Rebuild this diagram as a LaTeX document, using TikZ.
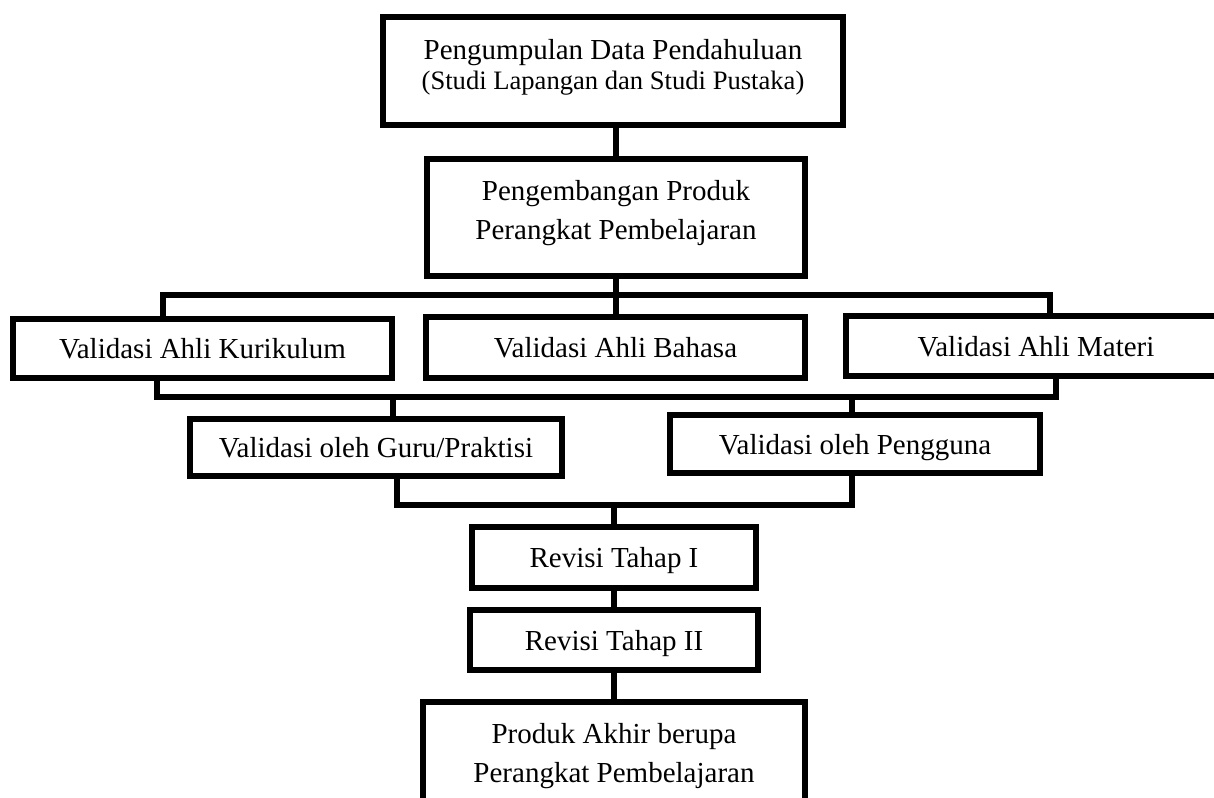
\documentclass[tikz,border=0pt]{standalone}
\usepackage{fontspec}
\setmainfont{Liberation Serif}
\usetikzlibrary{positioning,calc}
\tikzstyle{kotak} = [draw, line width=2.75pt, inner sep=0pt, align=center, text height=10pt, text depth=0pt]
\tikzstyle{garis} = [line width=2.75pt]

\begin{document}
\begin{tikzpicture}[x=0.5pt, y=-0.5pt, font=\fontsize{14.5}{19.5}\selectfont]
\path[use as bounding box, clip] (0,0) rectangle (1214,797);

\node[kotak, minimum width=230pt, minimum height=54pt, text height=25pt, text depth=6pt] (kumpul) at (613,71) {Pengumpulan Data Pendahuluan\\[-4.5pt]{\fontsize{13.3}{15}\selectfont (Studi Lapangan dan Studi Pustaka)}};
\node[kotak, minimum width=189pt, minimum height=58.5pt, text height=29.5pt, text depth=8pt] (kembang) at (616,217.5) {Pengembangan Produk\\Perangkat Pembelajaran};

\node[kotak, minimum width=189.5pt, minimum height=29.5pt] (kurikulum) at (202.5,348.5) {Validasi Ahli Kurikulum};
\node[kotak, minimum width=189.5pt, minimum height=30.5pt] (bahasa) at (615.5,347.5) {Validasi Ahli Bahasa};
\node[kotak, minimum width=190pt, minimum height=30pt] (materi) at (1036,346) {Validasi Ahli Materi};

\node[kotak, minimum width=186pt, minimum height=28.5pt] (guru) at (376,447.5) {Validasi oleh Guru/Praktisi};
\node[kotak, minimum width=185pt, minimum height=29pt] (pengguna) at (855,444) {Validasi oleh Pengguna};

\node[kotak, minimum width=142pt, minimum height=30.5pt] (revisi1) at (614,557.5) {Revisi Tahap I};
\node[kotak, minimum width=144pt, minimum height=30pt] (revisi2) at (614,640) {Revisi Tahap II};
\node[kotak, minimum width=191pt, minimum height=58.5pt, text height=29.5pt, text depth=8pt] (akhir) at (614,760.5) {Produk Akhir berupa\\Perangkat Pembelajaran};

% titik cabang
\coordinate (bus1-l) at (163,295);
\coordinate (bus1-r) at (1050,295);
\coordinate (bus2-l) at (157,397);
\coordinate (bus2-r) at (1056,397);
\coordinate (bus2-g) at (393,397);
\coordinate (bus2-p) at (852,397);
\coordinate (bus3-l) at (397,505);
\coordinate (bus3-r) at (852,505);

\draw[garis] (kembang.north |- kumpul.south) -- (kembang.north);
\draw[garis] (kembang.south) -- (kembang.south |- bahasa.north);
\draw[garis] (kurikulum.north -| bus1-l) -- (bus1-l) -- (bus1-r) -- (materi.north -| bus1-r);

\draw[garis] (kurikulum.south -| bus2-l) -- (bus2-l) -- (bus2-r) -- (materi.south -| bus2-r);
\draw[garis] (bus2-g) -- (guru.north -| bus2-g);
\draw[garis] (bus2-p) -- (pengguna.north -| bus2-p);

\draw[garis] (guru.south -| bus3-l) -- (bus3-l) -- (bus3-r) -- (pengguna.south -| bus3-r);
\draw[garis] (revisi1.north |- bus3-l) -- (revisi1.north);
\draw[garis] (revisi1.south) -- (revisi2.north);
\draw[garis] (revisi2.south) -- (akhir.north);

\end{tikzpicture}
\end{document}
